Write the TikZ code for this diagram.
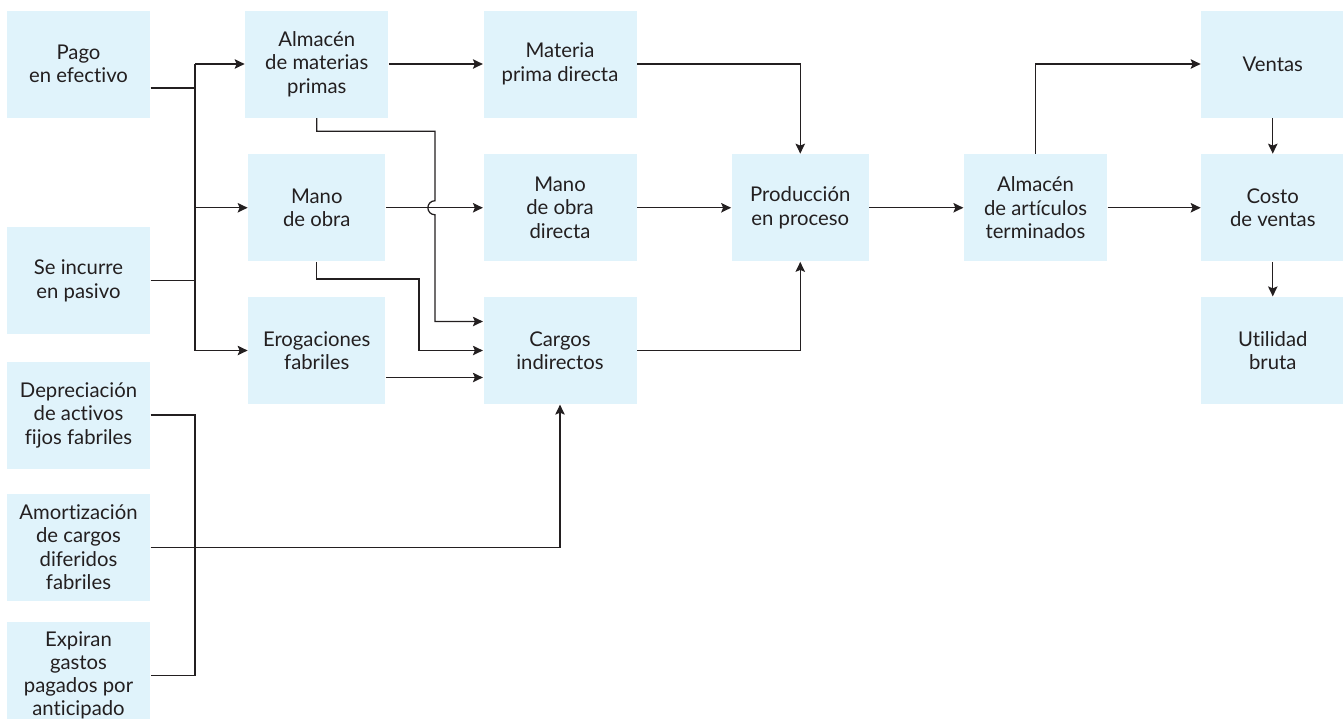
\documentclass[tikz,border=0pt]{standalone}
\usepackage{fontspec}
\setmainfont{Lato}[Ligatures=NoCommon]
\usepackage{tikz}
\usetikzlibrary{arrows.meta, positioning}
\definecolor{boxblue}{RGB}{224,243,251}
\definecolor{linegray}{RGB}{35,31,32}

\begin{document}
\begin{tikzpicture}[x=1pt, y=-1pt, line width=1.25pt, color=linegray,
    >={Stealth[length=10pt, width=9.5pt, inset=2pt]},
    every node/.style={rectangle, fill=boxblue, minimum width=143pt, minimum height=107pt, inner sep=0pt, align=center, font=\fontsize{20.3}{23.5}\selectfont},
    narrow/.style={minimum width=137pt},
    wide/.style={minimum width=153pt}]
    \useasboundingbox (0,0) rectangle (1343,718);
    \node (pago) at (78.5,64) {Pago\\en efectivo};
    \node[below=108.5pt of pago] (pasivo) {Se incurre\\en pasivo};
    \node[below=26pt of pasivo] (deprec) {Depreciación\\de activos\\fijos fabriles};
    \node[below=24pt of deprec] (amort) {Amortización\\de cargos\\diferidos\\fabriles};
    \node[below=20pt of amort, font=\fontsize{20.3}{23}\selectfont] (expiran) {Expiran\\gastos\\pagados por\\anticipado};
    \node[right=94pt of pago] (almmp) {Almacén\\de materias\\primas};
    \node[narrow, below=35.5pt of almmp] (manoobra) {Mano\\de obra};
    \node[narrow, below=34.5pt of manoobra] (erog) {Erogaciones\\fabriles};
    \node[wide, right=94pt of almmp] (mpdir) {Materia\\prima directa};
    \node[wide, below=35.5pt of mpdir] (mod) {Mano\\de obra\\directa};
    \node[wide, below=34.5pt of mod] (cargos) {Cargos\\indirectos};
    \node[narrow, right=94pt of mod] (prod) {Producción\\en proceso};
    \node[right=94pt of prod] (almat) {Almacén\\de artículos\\terminados};
    \node[right=93pt of almat] (costo) {Costo\\de ventas};
    \node[above=35.5pt of costo] (ventas) {Ventas};
    \node[below=34.5pt of costo] (util) {Utilidad\\bruta};
    \coordinate (bus) at (195,0);
    \coordinate (jmp) at ([xshift=-48pt]mod.west);
    \coordinate (pagoout) at ([yshift=-24pt]pago.east);
    \draw (pagoout) -- (pagoout -| bus);
    \draw (pasivo.east) -- (pasivo.east -| bus);
    \draw (bus |- almmp) -- (bus |- erog);
    \draw[->] (bus |- almmp) -- (almmp.west);
    \draw[->] (bus |- manoobra) -- (manoobra.west);
    \draw[->] (bus |- erog) -- (erog.west);
    \draw (deprec.east) -| (bus |- expiran) -- (expiran.east);
    \draw[->] (amort.east) -| (cargos.south);
    \draw[->] (almmp.east) -- (mpdir.west);
    \draw[->] (almmp.south) -- ++(0,13) -| ([yshift=7pt]jmp) arc[start angle=90, end angle=270, radius=7pt] |- ([yshift=29pt]cargos.west);
    \draw[->] (manoobra.east) -- (mod.west);
    \draw[->] (manoobra.south) -- ++(0,17) -| ([xshift=-64pt]cargos.west) -- (cargos.west);
    \draw[->] ([yshift=-27pt]erog.east) -- ([yshift=-27pt]cargos.west);
    \draw[->] (mpdir.east) -| (prod.north);
    \draw[->] (mod.east) -- (prod.west);
    \draw[->] (cargos.east) -| (prod.south);
    \draw[->] (prod.east) -- (almat.west);
    \draw[->] (almat.north) |- (ventas.west);
    \draw[->] (almat.east) -- (costo.west);
    \draw[->] (ventas.south) -- (costo.north);
    \draw[->] (costo.south) -- (util.north);
\end{tikzpicture}
\end{document}
